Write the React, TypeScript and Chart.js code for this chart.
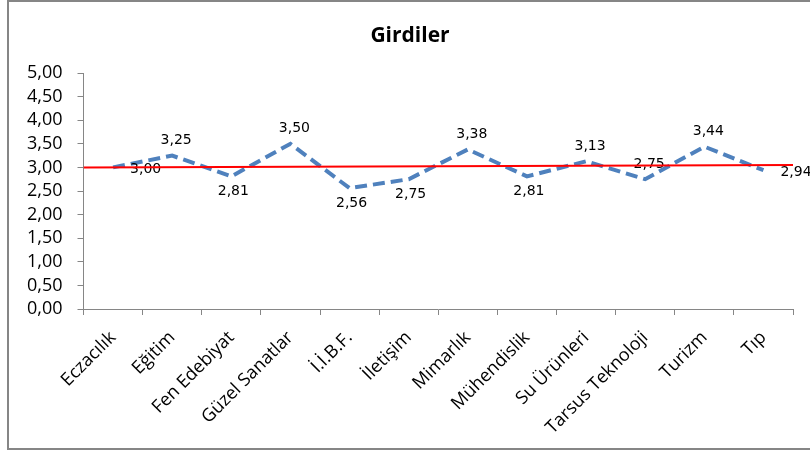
import { useEffect, useRef } from "react";
import { Chart, registerables } from "chart.js";

Chart.register(...registerables);

const chartTitle = "Girdiler";
const categories = [
  "Eczacılık",
  "Eğitim",
  "Fen Edebiyat",
  "Güzel Sanatlar",
  "İ.İ.B.F.",
  "İletişim",
  "Mimarlık",
  "Mühendislik",
  "Su Ürünleri",
  "Tarsus Teknoloji",
  "Turizm",
  "Tıp",
];
const girdiValues = [3.0, 3.25, 2.81, 3.5, 2.56, 2.75, 3.38, 2.81, 3.13, 2.75, 3.44, 2.94];
// red reference line: start value and end value across the plot
const referenceLine = [3.0, 3.05];
const yMin = 0;
const yMax = 5;
const yStep = 0.5;

// label placement per point (style only)
const labelPlacement = [
  "right", "above", "below", "above", "below", "below",
  "above", "below", "above", "above", "above", "right",
];

const fmt = (v: number) => v.toFixed(2).replace(".", ",");

const decorPlugin = {
  id: "decor",
  beforeDraw(chart: any) {
    const { ctx } = chart;
    ctx.save();
    ctx.fillStyle = "#ffffff";
    ctx.fillRect(0, 0, chart.width, chart.height);
    ctx.restore();
  },
  afterDatasetDraw(chart: any, args: any) {
    if (args.index !== 0) return;
    const { ctx } = chart;
    const meta = chart.getDatasetMeta(0);
    ctx.save();
    ctx.font = "14px 'DejaVu Sans'";
    ctx.fillStyle = "#000000";
    ctx.textBaseline = "middle";
    meta.data.forEach((pt: any, i: number) => {
      const v = girdiValues[i];
      const text = fmt(v);
      const p = labelPlacement[i];
      if (p === "above") {
        ctx.textAlign = "center";
        ctx.fillText(text, pt.x + 4, pt.y - 15);
      } else if (p === "below") {
        ctx.textAlign = "center";
        ctx.fillText(text, pt.x + 2, pt.y + 15);
      } else {
        ctx.textAlign = "left";
        ctx.fillText(text, pt.x + 17, pt.y + 2);
      }
    });
    ctx.restore();
  },
  afterDraw(chart: any) {
    const { ctx } = chart;
    ctx.save();
    ctx.font = "bold 21px 'Open Sans'";
    ctx.fillStyle = "#000000";
    ctx.textAlign = "center";
    ctx.textBaseline = "alphabetic";
    ctx.fillText(chartTitle, 410, 42);
    ctx.strokeStyle = "#868686";
    ctx.lineWidth = 2;
    ctx.strokeRect(8, 1, 820, 448);
    ctx.restore();
  },
};

export default function App() {
  const ref = useRef<HTMLCanvasElement | null>(null);
  useEffect(() => {
    if (!ref.current) return;
    const chart = new Chart(ref.current, {
      type: "line",
      data: {
        labels: categories,
        datasets: [
          {
            data: girdiValues,
            borderColor: "#4F81BD",
            borderWidth: 4,
            borderDash: [12, 6],
            pointRadius: 0,
            tension: 0,
            fill: false,
            order: 2,
            xAxisID: "x",
          },
          {
            data: [
              { x: 0, y: referenceLine[0] },
              { x: 1, y: referenceLine[1] },
            ],
            borderColor: "#FF0000",
            borderWidth: 2,
            pointRadius: 0,
            tension: 0,
            fill: false,
            order: 1,
            xAxisID: "x2",
          },
        ],
      },
      options: {
        responsive: false,
        animation: false,
        layout: { padding: { top: 73, left: 0, right: 17, bottom: 0 } },
        plugins: {
          legend: { display: false },
          title: { display: false },
          tooltip: { enabled: false },
        },
        scales: {
          x: {
            type: "category",
            offset: true,
            grid: {
              offset: true,
              drawOnChartArea: false,
              drawTicks: true,
              tickLength: 6,
              color: "#868686",
            },
            border: { color: "#868686", width: 1 },
            ticks: {
              color: "#000000",
              font: { family: "'Open Sans'", size: 18 },
              minRotation: 45,
              maxRotation: 45,
              autoSkip: false,
              padding: 12,
            },
            afterFit(scale: any) {
              scale.height = 143;
            },
          },
          x2: {
            type: "linear",
            min: 0,
            max: 1,
            display: false,
          },
          y: {
            min: yMin,
            max: yMax,
            grid: {
              drawOnChartArea: false,
              drawTicks: true,
              tickLength: 6,
              color: "#868686",
            },
            border: { color: "#868686", width: 1 },
            ticks: {
              stepSize: yStep,
              autoSkip: false,
              color: "#000000",
              font: { family: "'Open Sans'", size: 18, lineHeight: 1 },
              padding: 15,
              callback: (v: any) => fmt(Number(v)),
            },
            afterFit(scale: any) {
              scale.width = 83.5;
            },
          },
        },
      },
      plugins: [decorPlugin],
    } as any);
    return () => chart.destroy();
  }, []);
  return (
    <div style={{ position: "absolute", left: 0, top: 0, width: 810, height: 452, background: "#fff" }}>
      <canvas ref={ref} width={810} height={452} style={{ display: "block" }} />
    </div>
  );
}
